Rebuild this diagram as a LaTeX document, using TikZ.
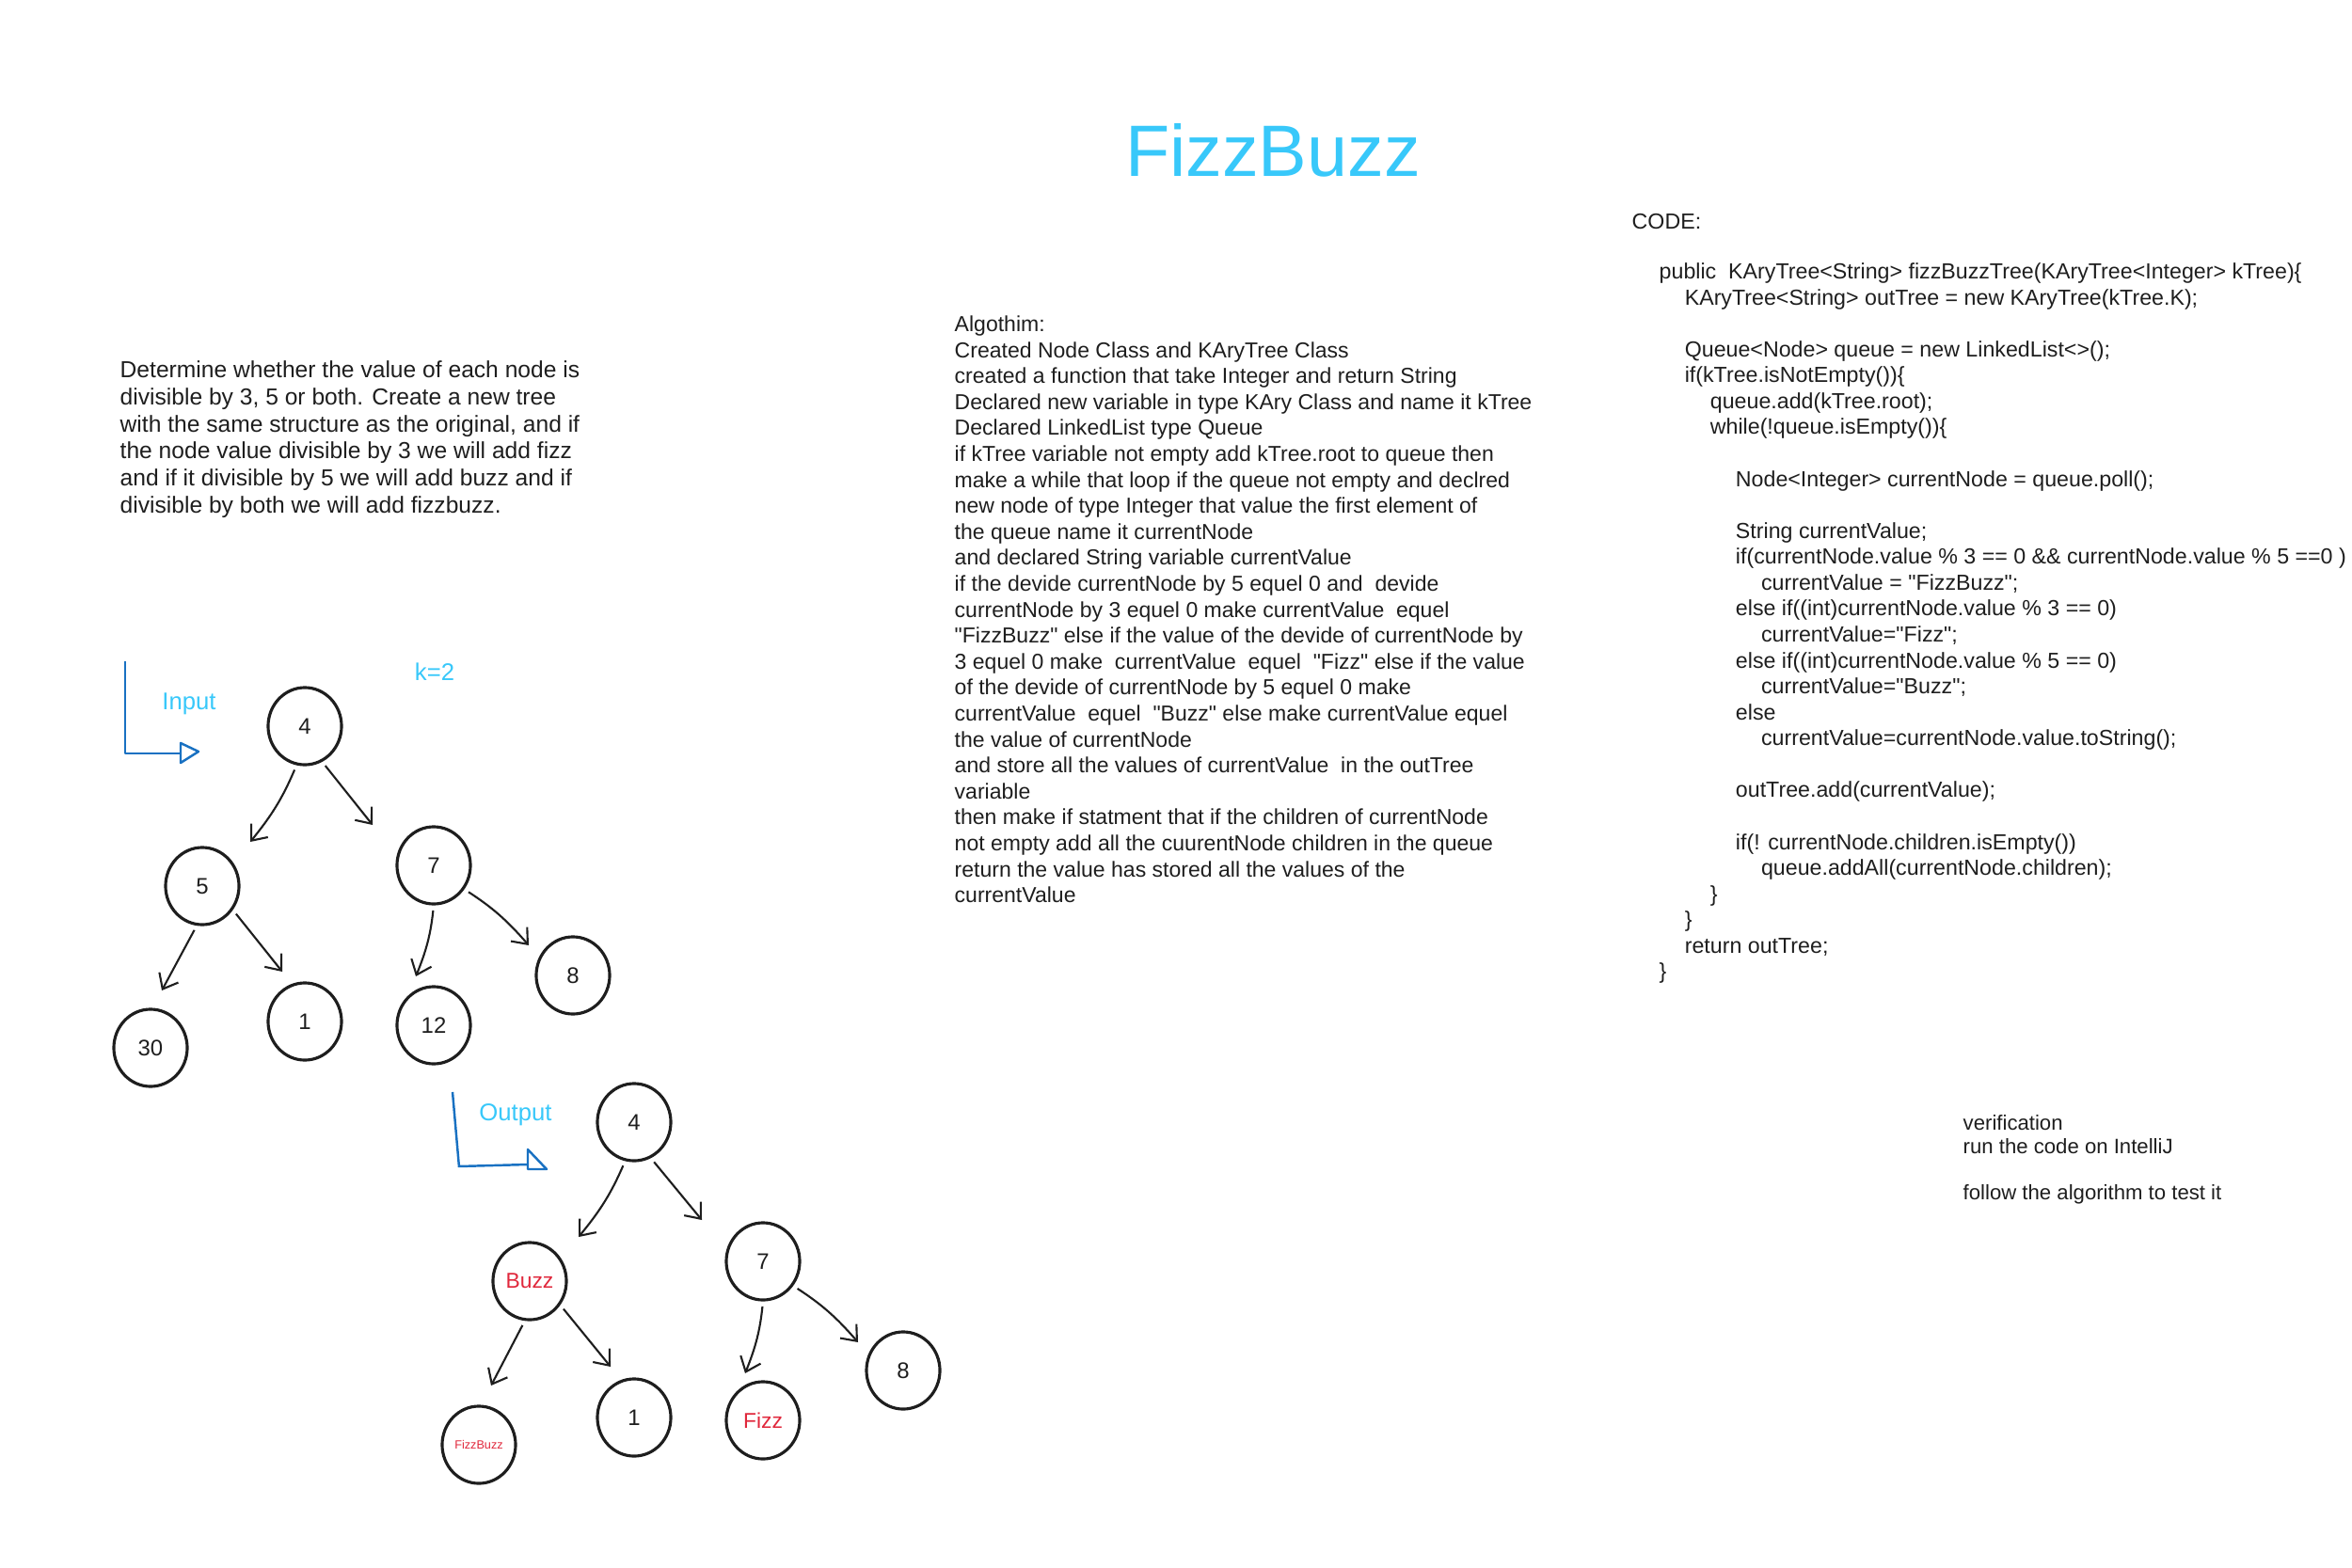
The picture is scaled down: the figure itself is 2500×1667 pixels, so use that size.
\documentclass[tikz,border=0pt]{standalone}
\usepackage{fontspec}
\setmainfont{Liberation Sans}
\newfontfamily\hand{Liberation Sans}
\usetikzlibrary{shapes.geometric,arrows.meta}
\definecolor{ink}{RGB}{30,30,30}
\definecolor{sky}{RGB}{56,200,250}
\definecolor{bblue}{RGB}{25,113,194}
\definecolor{fred}{RGB}{224,40,60}
\begin{document}
\begin{tikzpicture}[x=0.01cm,y=-0.01cm,
  tnode/.style={ellipse,draw=ink,line width=0.9pt,minimum width=0.78cm,minimum height=0.82cm,inner sep=0pt,text=ink,font=\hand\fontsize{6.8}{8}\selectfont},
  redtxt/.style={text=fred},
  arr/.style={draw=ink,line width=0.6pt,shorten <=1.5pt,-{Straight Barb[length=4pt,width=6.5pt]}},
  bracket/.style={draw=bblue,line width=0.7pt,line join=round},
  lbl/.style={text=sky,inner sep=0pt,font=\hand\fontsize{7.3}{8.5}\selectfont},
  txt/.style={anchor=north west,inner sep=0pt,align=left,text=ink}
]
\useasboundingbox (0,0) rectangle (2500,1667);

% title
\node[text=sky,font=\hand\fontsize{22}{26}\selectfont] (title) at (1353,160) {FizzBuzz};

% description
\node[txt,font=\hand\fontsize{7.0}{8.19}\selectfont] (desc) at (127,383) {%
Determine whether the value of each node is\\
divisible by 3, 5 or both. Create a new tree\\
with the same structure as the original, and if\\
the node value divisible by 3 we will add fizz\\
and if it divisible by 5 we will add buzz and if\\
divisible by both we will add fizzbuzz.};

% algorithm
\node[txt,font=\hand\fontsize{6.55}{7.85}\selectfont] (algo) at (1014,335) {%
Algothim:\\
Created Node Class and KAryTree Class\\
created a function that take Integer and return String\\
Declared new variable in type KAry Class and name it kTree\\
Declared LinkedList type Queue\\
if kTree variable not empty add kTree.root to queue then\\
make a while that loop if the queue not empty and declred\\
new node of type Integer that value the first element of\\
the queue name it currentNode\\
and declared String variable currentValue\\
if the devide currentNode by 5 equel 0 and\ \ devide\\
currentNode by 3 equel 0 make currentValue\ \ equel\\
"FizzBuzz" else if the value of the devide of currentNode by\\
3 equel 0 make\ \ currentValue\ \ equel\ \ "Fizz" else if the value\\
of the devide of currentNode by 5 equel 0 make\\
currentValue\ \ equel\ \ "Buzz" else make currentValue equel\\
the value of currentNode\\
and store all the values of currentValue\ \ in the outTree\\
variable\\
then make if statment that if the children of currentNode\\
not empty add all the cuurentNode children in the queue\\
return the value has stored all the values of the\\
currentValue};

% code
\node[txt,font=\hand\fontsize{6.6}{7.84}\selectfont] (codehead) at (1734,227) {CODE:};
\node[txt,font=\hand\fontsize{6.6}{7.84}\selectfont] (code) at (1763,279) {%
public\ \ KAryTree<String> fizzBuzzTree(KAryTree<Integer> kTree)\{\\
\hspace*{7.7pt}KAryTree<String> outTree = new KAryTree(kTree.K);\\
\mbox{}\\
\hspace*{7.7pt}Queue<Node> queue = new LinkedList<>();\\
\hspace*{7.7pt}if(kTree.isNotEmpty())\{\\
\hspace*{15.4pt}queue.add(kTree.root);\\
\hspace*{15.4pt}while(!queue.isEmpty())\{\\
\mbox{}\\
\hspace*{23.1pt}Node<Integer> currentNode = queue.poll();\\
\mbox{}\\
\hspace*{23.1pt}String currentValue;\\
\hspace*{23.1pt}if(currentNode.value \% 3 == 0 \&\& currentNode.value \% 5 ==0 )\\
\hspace*{30.8pt}currentValue = "FizzBuzz";\\
\hspace*{23.1pt}else if((int)currentNode.value \% 3 == 0)\\
\hspace*{30.8pt}currentValue="Fizz";\\
\hspace*{23.1pt}else if((int)currentNode.value \% 5 == 0)\\
\hspace*{30.8pt}currentValue="Buzz";\\
\hspace*{23.1pt}else\\
\hspace*{30.8pt}currentValue=currentNode.value.toString();\\
\mbox{}\\
\hspace*{23.1pt}outTree.add(currentValue);\\
\mbox{}\\
\hspace*{23.1pt}if(! currentNode.children.isEmpty())\\
\hspace*{30.8pt}queue.addAll(currentNode.children);\\
\hspace*{15.4pt}\}\\
\hspace*{7.7pt}\}\\
\hspace*{7.7pt}return outTree;\\
\}};

% verification
\node[txt,font=\hand\fontsize{6.3}{6.97}\selectfont] (verif) at (2086,1185) {%
verification\\
run the code on IntelliJ\\
\mbox{}\\
follow the algorithm to test it};

% ---------- input tree ----------
\node[lbl] (inlbl) at (201,748) {Input};
\node[lbl] (klbl) at (462,714) {k=2};
\draw[bracket] (133,703) -- (133,801) -- (192,801);
\draw[bracket] (192,790) -- (211,799) -- (192,811) -- cycle;

\node[tnode] (i4) at (324,772) {4};
\node[tnode] (i5) at (215,942) {5};
\node[tnode] (i7) at (461,920) {7};
\node[tnode] (i8) at (609,1037) {8};
\node[tnode] (i30) at (160,1114) {30};
\node[tnode] (i1) at (324,1086) {1};
\node[tnode] (i12) at (461,1090) {12};

\coordinate (ti5) at (266,895);
\coordinate (ti7) at (396,877);
\coordinate (ti30) at (172,1053);
\coordinate (ti1) at (300,1033);
\coordinate (ti12) at (442,1038);
\coordinate (ti8) at (562,1005);

\draw[arr] (i4.-102) to[bend left=8] (ti5);
\draw[arr] (i4.-64) -- (ti7);
\draw[arr] (i5.-98) -- (ti30);
\draw[arr] (i5.-38) -- (ti1);
\draw[arr] (i7.-90) to[bend left=8] (ti12);
\draw[arr] (i7.-38) to[bend left=8] (ti8);

% ---------- output tree ----------
\node[lbl] (outlbl) at (548,1185) {Output};
\draw[bracket] (481,1161) -- (488,1241);
\draw[bracket] (488,1240) -- (561,1238);
\draw[bracket] (561,1222) -- (581,1243) -- (561,1243) -- cycle;

\node[tnode] (o4) at (674,1193) {4};
\node[tnode,redtxt,font=\hand\fontsize{6.5}{8}\selectfont] (obuzz) at (563,1362) {Buzz};
\node[tnode] (o7) at (811,1341) {7};
\node[tnode] (o8) at (960,1457) {8};
\node[tnode,redtxt,font=\hand\fontsize{3.6}{4}\selectfont] (ofb) at (509,1536) {FizzBuzz};
\node[tnode] (o1) at (674,1507) {1};
\node[tnode,redtxt,font=\hand\fontsize{6.5}{8}\selectfont] (ofizz) at (811,1510) {Fizz};

\coordinate (tobuzz) at (615,1315);
\coordinate (to7) at (746,1297);
\coordinate (tofb) at (522,1473);
\coordinate (to1) at (649,1453);
\coordinate (tofizz) at (792,1460);
\coordinate (to8) at (912,1427);

\draw[arr] (o4.-103) to[bend left=8] (tobuzz);
\draw[arr] (o4.-65) -- (to7);
\draw[arr] (obuzz.-97) -- (tofb);
\draw[arr] (obuzz.-38) -- (to1);
\draw[arr] (o7.-90) to[bend left=8] (tofizz);
\draw[arr] (o7.-39) to[bend left=8] (to8);
\end{tikzpicture}
\end{document}
